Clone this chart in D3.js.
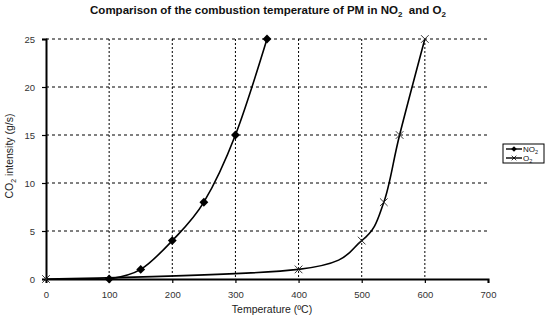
<!DOCTYPE html>
<html><head><meta charset="utf-8">
<script src="https://cdn.jsdelivr.net/npm/d3@7"></script>
<style>body{margin:0;background:#fff}svg{display:block}text{font-family:"Liberation Sans",Arial,sans-serif}</style>
</head><body><svg id="c" width="550" height="322"></svg>
<script>
const xTicks = [0,100,200,300,400,500,600,700];
const yTicks = [0,5,10,15,20,25];
const no2Temp = [100,150,200,250,300,350];
const no2Val  = [0,1,4,8,15,25];
const o2Temp  = [0,400,500,535,560,600];
const o2Val   = [0,1,4,8,15,25];

const svg = d3.select("#c");
const x = d3.scaleLinear().domain([0,700]).range([46,488]);
const y = d3.scaleLinear().domain([0,25]).range([279,39]);

// grid
svg.append("g").selectAll("line").data(yTicks.filter(d=>d>0)).join("line")
  .attr("x1",x(0)).attr("x2",x(700)).attr("y1",d=>y(d)).attr("y2",d=>y(d))
  .attr("stroke","#000").attr("stroke-width",1).attr("stroke-dasharray","3,3");
svg.append("g").selectAll("line").data(xTicks.filter(d=>d>0&&d<700)).join("line")
  .attr("x1",d=>x(d)).attr("x2",d=>x(d)).attr("y1",y(25)).attr("y2",y(0))
  .attr("stroke","#000").attr("stroke-width",1).attr("stroke-dasharray","2,2");

// axes
const xAxis = svg.append("g").attr("transform",`translate(0,${y(0)})`)
  .call(d3.axisBottom(x).tickValues(xTicks).tickSize(4).tickPadding(8).tickFormat(d3.format("d")));
const yAxis = svg.append("g").attr("transform",`translate(${x(0)},0)`)
  .call(d3.axisLeft(y).tickValues(yTicks).tickSize(4).tickPadding(7).tickFormat(d3.format("d")));
[xAxis,yAxis].forEach(a=>{
  a.select(".domain").attr("stroke","#000").attr("stroke-width",2);
  a.selectAll(".tick line").attr("stroke","#000").attr("stroke-width",1.2);
  a.selectAll(".tick text").attr("font-size",9.5).attr("fill","#333");
});

// lines
const no2 = no2Temp.map((t,i)=>[t,no2Val[i]]);
const o2 = o2Temp.map((t,i)=>[t,o2Val[i]]);
const line = d3.line().x(d=>x(d[0])).y(d=>y(d[1])).curve(d3.curveCardinal.tension(0));
svg.append("path").attr("d",line(o2)).attr("fill","none").attr("stroke","#000").attr("stroke-width",1.6);
svg.append("path").attr("d",line(no2)).attr("fill","none").attr("stroke","#000").attr("stroke-width",1.6);

// markers
const diamond = d3.symbol().type(d3.symbolDiamond2).size(50);
svg.append("g").selectAll("path").data(no2).join("path")
  .attr("d",diamond).attr("transform",d=>`translate(${x(d[0])},${y(d[1])})`).attr("fill","#000");
const cross = d3.symbol().type(d3.symbolTimes).size(40);
svg.append("g").selectAll("path").data(o2).join("path")
  .attr("d",cross).attr("transform",d=>`translate(${x(d[0])},${y(d[1])})`)
  .attr("fill","none").attr("stroke","#222").attr("stroke-width",0.9);

// title
const t = svg.append("text").attr("x",268).attr("y",14).attr("text-anchor","middle")
  .attr("font-size",11.5).attr("font-weight","bold").attr("fill","#111");
t.append("tspan").text("Comparison of the combustion temperature of PM in NO");
t.append("tspan").text("2").attr("font-size",8).attr("dy",3);
t.append("tspan").text("\u00a0 and O").attr("dy",-3);
t.append("tspan").text("2").attr("font-size",8).attr("dy",3);

// axis titles
svg.append("text").attr("x",272).attr("y",313).attr("text-anchor","middle")
  .attr("font-size",10.5).attr("fill","#222").text("Temperature (ºC)");
const yl = svg.append("text").attr("transform","translate(13,156) rotate(-90)").attr("text-anchor","middle")
  .attr("font-size",10.5).attr("fill","#222");
yl.append("tspan").text("CO");
yl.append("tspan").text("2").attr("font-size",7).attr("dy",3);
yl.append("tspan").text(" intensity (g/s)").attr("dy",-3);

// legend
const lg = svg.append("g");
lg.append("rect").attr("x",503).attr("y",144).attr("width",41).attr("height",19)
  .attr("fill","#fff").attr("stroke","#000").attr("stroke-width",1);
const items = [{name:"NO",sym:"d",yy:149},{name:"O",sym:"x",yy:158}];
items.forEach(it=>{
  lg.append("line").attr("x1",506).attr("x2",522).attr("y1",it.yy).attr("y2",it.yy).attr("stroke","#000").attr("stroke-width",1.4);
  if(it.sym==="d") lg.append("path").attr("d",d3.symbol().type(d3.symbolDiamond2).size(20)).attr("transform",`translate(514,${it.yy})`).attr("fill","#000");
  else lg.append("path").attr("d",d3.symbol().type(d3.symbolTimes).size(16)).attr("transform",`translate(514,${it.yy})`).attr("fill","none").attr("stroke","#000").attr("stroke-width",0.8);
  const tx = lg.append("text").attr("x",523).attr("y",it.yy+3).attr("font-size",8).attr("fill","#111");
  tx.append("tspan").text(it.name);
  tx.append("tspan").text("2").attr("font-size",5.5).attr("dy",2);
});
</script></body></html>
